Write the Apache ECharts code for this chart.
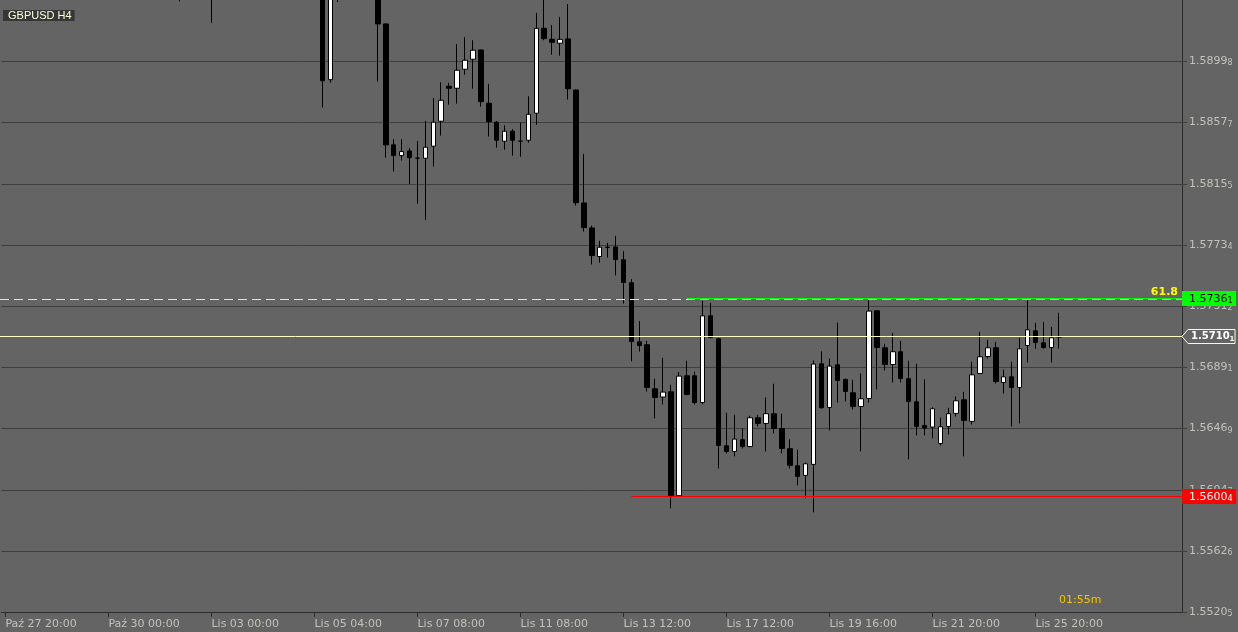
<!DOCTYPE html>
<html><head><meta charset="utf-8">
<script src="https://cdn.jsdelivr.net/npm/echarts@6/dist/echarts.min.js"></script>
<style>html,body{margin:0;padding:0;background:#646464;overflow:hidden}#c{width:1238px;height:632px}</style>
</head><body><div id="c"></div>
<script>
const symbolName = 'GBPUSD H4';
const timerText = '01:55m';
const timeLabels = ['Paź 27 20:00','Paź 30 00:00','Lis 03 00:00','Lis 05 04:00','Lis 07 08:00','Lis 11 08:00','Lis 13 12:00','Lis 17 12:00','Lis 19 16:00','Lis 21 20:00','Lis 25 20:00'];
const labelEvery = 13;
const slotCount = 149;
const priceTicks = [1.55205,1.55626,1.56047,1.56469,1.56891,1.57312,1.57734,1.58155,1.58577,1.58998];
const priceTickLabels = ['1.55205','1.55626','1.56047','1.56469','1.56891','1.57312','1.57734','1.58155','1.58577','1.58998'];
const priceMin = 1.55205, priceMax = 1.59421;
const fibLevel = 1.57357, fibText = '61.8';
const resistance = 1.57364, resistanceText = '1.57361', resistanceStart = 86;
const support = 1.56004, supportText = '1.56004', supportStart = 79;
const bidPrice = 1.57101, bidText = '1.57101';

const opens = [1.6020,1.6032,1.6044,1.6036,1.6022,1.6011,1.6019,1.6030,1.6025,1.6008,
1.5996,1.6005,1.6017,1.6010,1.5998,1.5984,1.5990,1.5999,1.5992,1.5977,
1.5966,1.5972,1.5961,1.5955,1.5970,1.5981,1.5968,1.5960,1.5977,1.5988,
1.5996,1.6003,1.5997,1.5986,1.5994,1.6001,1.5993,1.5982,1.5973,1.5968,
1.5962,1.58872,1.5978,1.5987,1.5975,1.5981,1.5970,1.5958,1.59256,1.58423,
1.58349,1.58381,1.58331,1.58331,1.58414,1.58586,1.58827,1.58813,1.58944,1.59013,
1.59077,1.58710,1.58579,1.58448,1.58517,1.58448,1.58455,1.58641,1.59226,1.59150,
1.59123,1.59153,1.58801,1.58023,1.57851,1.57654,1.57718,1.57720,1.57631,1.57473,
1.57066,1.57046,1.56743,1.56686,1.56722,1.56006,1.56832,1.56832,1.56648,1.57245,
1.57087,1.56350,1.56311,1.56392,1.56345,1.56543,1.56504,1.56571,1.56469,1.56330,
1.56213,1.56146,1.56222,1.56915,1.56614,1.56908,1.56807,1.56715,1.56621,1.56676,
1.57280,1.57025,1.56910,1.56998,1.56812,1.56653,1.56490,1.56479,1.56366,1.56483,
1.56573,1.56667,1.56518,1.56848,1.56965,1.57025,1.56786,1.56825,1.56752,1.57041,
1.57142,1.57059,1.57027,1.57098];
const highs = [1.6041,1.6050,1.6058,1.6049,1.6035,1.6028,1.6036,1.6047,1.6039,1.6021,
1.6012,1.6024,1.6030,1.6022,1.6009,1.5997,1.6006,1.6014,1.6003,1.5991,
1.5980,1.5985,1.5974,1.5978,1.5987,1.5993,1.5979,1.5984,1.5995,1.6004,
1.6012,1.6018,1.6008,1.6001,1.6010,1.6015,1.6005,1.5996,1.5988,1.5981,
1.5970,1.5985,1.5995,1.5999,1.5989,1.5993,1.5982,1.5965,1.59260,1.58462,
1.58462,1.58400,1.58450,1.58588,1.58746,1.58854,1.58850,1.59118,1.59166,1.59144,
1.59080,1.58843,1.58588,1.58558,1.58531,1.58576,1.58758,1.59332,1.5950,1.59249,
1.59304,1.59393,1.58805,1.58361,1.57867,1.57762,1.57748,1.57796,1.57691,1.57498,
1.57209,1.57073,1.56812,1.56956,1.56770,1.56858,1.56936,1.56860,1.57349,1.57335,
1.57094,1.56578,1.56564,1.56469,1.56557,1.56564,1.56683,1.56777,1.56571,1.56394,
1.56323,1.56235,1.56938,1.57000,1.56951,1.57199,1.56814,1.56805,1.56848,1.57361,
1.57282,1.57053,1.57128,1.57073,1.56936,1.56915,1.56807,1.56614,1.56543,1.56612,
1.56690,1.56722,1.56929,1.57135,1.57080,1.57066,1.56874,1.56929,1.57094,1.57355,
1.57197,1.57204,1.57170,1.57266];
const lows = [1.6008,1.6021,1.6030,1.6015,1.6004,1.5998,1.6009,1.6018,1.6002,1.5989,
1.5981,1.5995,1.6003,1.5990,1.5975,1.5966,1.5979,1.5985,1.5969,1.5958,
1.5950,1.5955,1.59411,1.5948,1.5960,1.5962,1.59263,1.5952,1.5968,1.5976,
1.5984,1.5990,1.5980,1.5972,1.5983,1.5988,1.5975,1.5964,1.5955,1.5950,
1.58680,1.58852,1.59407,1.5968,1.5962,1.5966,1.5951,1.58859,1.58335,1.58239,
1.58315,1.58154,1.58017,1.57906,1.58273,1.58487,1.58700,1.58707,1.58907,1.58810,
1.58686,1.58480,1.58404,1.58390,1.58349,1.58342,1.58439,1.58562,1.59144,1.59044,
1.59038,1.58735,1.58005,1.57826,1.57599,1.57612,1.57647,1.57523,1.57330,1.56931,
1.56999,1.56724,1.56538,1.56635,1.55919,1.56004,1.56697,1.56635,1.56635,1.57089,
1.56194,1.56297,1.56277,1.56332,1.56339,1.56483,1.56311,1.56435,1.56297,1.56194,
1.56077,1.55987,1.55891,1.56607,1.56456,1.56648,1.56655,1.56600,1.56311,1.56648,
1.56738,1.56869,1.56786,1.56786,1.56256,1.56421,1.56421,1.56401,1.56352,1.56428,
1.56552,1.56277,1.56497,1.56845,1.56951,1.56779,1.56710,1.56483,1.56504,1.56924,
1.57020,1.57020,1.56924,1.57020];
const closes = [1.6032,1.6044,1.6036,1.6022,1.6011,1.6019,1.6030,1.6025,1.6008,1.5996,
1.6005,1.6017,1.6010,1.5998,1.5984,1.5990,1.5999,1.5992,1.5977,1.5966,
1.5972,1.5961,1.5955,1.5970,1.5981,1.5968,1.5960,1.5977,1.5988,1.5996,
1.6003,1.5997,1.5986,1.5994,1.6001,1.5993,1.5982,1.5973,1.5968,1.5962,
1.58865,1.5978,1.5987,1.5975,1.5981,1.5970,1.5958,1.59256,1.58423,1.58349,
1.58377,1.58335,1.58332,1.58407,1.58579,1.58730,1.58813,1.58937,1.59006,1.59075,
1.58721,1.58583,1.58455,1.58517,1.58455,1.58449,1.58634,1.59226,1.59155,1.59130,
1.59150,1.58810,1.58025,1.57853,1.57661,1.57718,1.57717,1.57633,1.57475,1.57068,
1.57041,1.56752,1.56683,1.56720,1.56006,1.56830,1.56704,1.56648,1.57245,1.57096,
1.56352,1.56311,1.56396,1.56345,1.56543,1.56504,1.56571,1.56469,1.56332,1.56215,
1.56139,1.56226,1.56913,1.56612,1.56899,1.56800,1.56724,1.56621,1.56674,1.57278,
1.57027,1.56910,1.56998,1.56814,1.56655,1.56483,1.56472,1.56605,1.56481,1.56571,
1.56660,1.56525,1.56839,1.56963,1.57025,1.56793,1.56825,1.56752,1.57018,1.57149,
1.57062,1.57027,1.57094,1.57101];

const FONT = 'DejaVu Sans';
const TXT = '#c2c2ba';
const GRIDC = '#3e3e3e';
const AXISC = '#2c2c2c';

const categories = [];
for (let i = 0; i < slotCount; i++) {
  const k = i / labelEvery;
  categories.push(i % labelEvery === 0 && k < timeLabels.length ? timeLabels[k] : 'bar ' + i);
}
const ohlc = opens.map((o, i) => [o, closes[i], lows[i], highs[i]]);
const showTime = (idx) => idx % labelEvery === 0 && idx / labelEvery < timeLabels.length;
const split = (s) => '{m|' + s.slice(0, -1) + '}{s|' + s.slice(-1) + '}';

const chart = echarts.init(document.getElementById('c'), null, {renderer: 'canvas'});
const GL = 1.5, GR = 56;
chart.setOption({
  animation: false,
  backgroundColor: '#646464',
  grid: {left: GL, right: GR, top: 0, bottom: 20},
  xAxis: {
    type: 'category', data: categories, boundaryGap: true,
    axisLine: {show: true, lineStyle: {color: AXISC, width: 1}},
    axisTick: {show: true, alignWithLabel: true, length: 5, interval: showTime, lineStyle: {color: AXISC}},
    axisLabel: {show: true, interval: showTime, align: 'left', margin: 7, color: TXT, fontFamily: FONT, fontSize: 11,
      formatter: (v) => v},
    splitLine: {show: false}
  },
  yAxis: {
    type: 'value', position: 'right', min: priceMin, max: priceMax, scale: true,
    axisLine: {show: true, lineStyle: {color: AXISC, width: 1}},
    axisTick: {show: true, length: 5, customValues: priceTicks, lineStyle: {color: GRIDC}},
    axisLabel: {show: true, customValues: priceTicks, margin: 7,
      formatter: (v) => {
        let idx = priceTicks.findIndex(t => Math.abs(t - v) < 1e-7);
        return idx < 0 ? '' : split(priceTickLabels[idx]);
      },
      rich: {
        m: {fontFamily: FONT, fontSize: 11, color: TXT, lineHeight: 12},
        s: {fontFamily: FONT, fontSize: 8, color: TXT, lineHeight: 9, verticalAlign: 'bottom'}
      }},
    splitLine: {show: true, lineStyle: {color: GRIDC, width: 1}}
  },
  series: [{
    type: 'candlestick', data: ohlc, barWidth: 5, clip: true, silent: true,
    itemStyle: {color: '#ffffff', color0: '#000000', borderColor: '#000000', borderColor0: '#000000', borderWidth: 1},
    emphasis: {disabled: true}
  }]
});

const crisp = (p) => Math.floor(p) + 0.5;
const yOf = (v) => crisp(chart.convertToPixel({yAxisIndex: 0}, v));
const xOf = (i) => chart.convertToPixel({xAxisIndex: 0}, i);
const xLeft = 0, xRight = 1238 - GR;
const yFib = yOf(fibLevel), yRes = yOf(resistance), ySup = yOf(support), yBid = yOf(bidPrice);

const boxLabel = (txt, bg, fg) => ({
  show: true, position: 'end', distance: 0, formatter: split(txt),
  backgroundColor: bg, padding: [2, 0, 0, 7], width: 47, height: 13,
  rich: {
    m: {fontFamily: FONT, fontSize: 11, color: fg, lineHeight: 12},
    s: {fontFamily: FONT, fontSize: 8, color: fg, lineHeight: 9, verticalAlign: 'bottom'}
  }
});

chart.setOption({
  series: [{
    markLine: {
      silent: true, symbol: 'none', animation: false,
      data: [
        [{x: xLeft, y: yBid, lineStyle: {color: '#ffffc0', width: 1, type: 'solid'}, label: {show: false}}, {x: xRight, y: yBid}],
        [{x: xLeft, y: yFib, lineStyle: {color: '#ffff00', width: 1, type: [9, 5]},
          label: {show: true, position: 'insideEndTop', distance: [4, 2], formatter: fibText, color: '#ffff00', fontFamily: FONT, fontWeight: 'bold', fontSize: 11}},
         {x: xRight, y: yFib}],
        [{x: xOf(resistanceStart), y: yRes, lineStyle: {color: '#00ff00', width: 1, type: 'solid'}, label: boxLabel(resistanceText, '#00ff00', '#000000')},
         {x: xRight, y: yRes}],
        [{x: xOf(supportStart), y: ySup, lineStyle: {color: '#ff0000', width: 1, type: 'solid'}, label: boxLabel(supportText, '#ff0000', '#ffffff')},
         {x: xRight, y: ySup}]
      ]
    }
  }],
  graphic: [
    {type: 'polygon', z: 100, shape: {points: [[xRight, yBid], [xRight + 6, yBid - 7], [xRight + 53, yBid - 7], [xRight + 53, yBid + 7], [xRight + 6, yBid + 7]]},
      style: {fill: '#646464', stroke: '#ffffc0', lineWidth: 1}},
    {type: 'text', z: 101, x: xRight + 9, y: yBid, style: {text: split(bidText), verticalAlign: 'middle',
      rich: {m: {fontFamily: FONT, fontSize: 10, fontWeight: 'bold', fill: '#ffffff', lineHeight: 12},
             s: {fontFamily: FONT, fontSize: 7, fontWeight: 'bold', fill: '#ffffff', lineHeight: 9, verticalAlign: 'bottom'}}}},
    {type: 'text', z: 101, x: 3, y: 10, style: {text: symbolName, fill: '#ffffdc', font: '11px "Liberation Sans"', backgroundColor: '#363636', padding: [0, 3, 0, 5], lineHeight: 11}},
    {type: 'text', z: 101, x: 1059, y: 600, style: {text: timerText, fill: '#f0c400', font: '11px "DejaVu Sans"', verticalAlign: 'middle'}}
  ]
});
</script></body></html>
